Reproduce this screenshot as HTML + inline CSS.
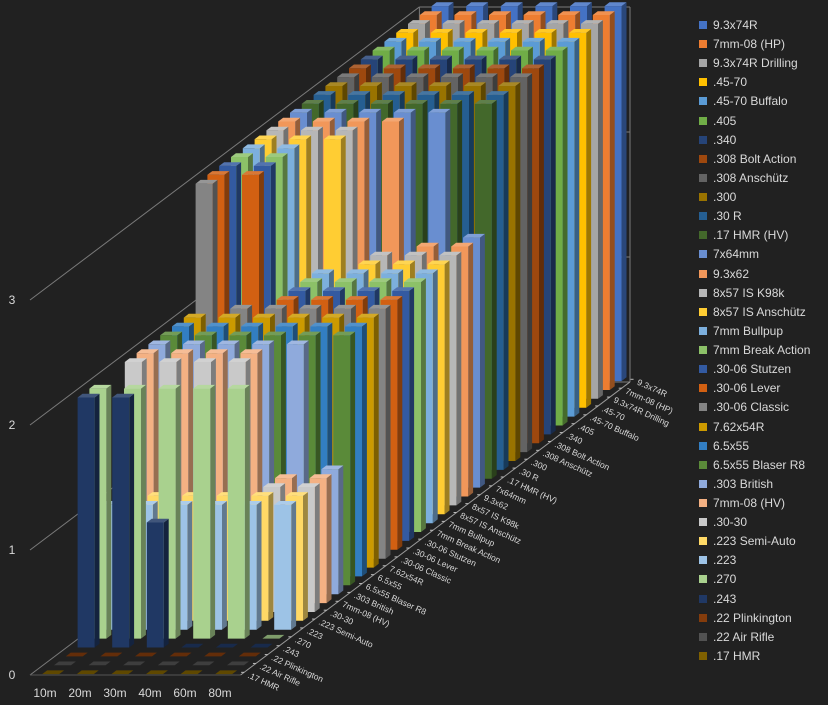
<!DOCTYPE html>
<html><head><meta charset="utf-8">
<style>
html,body{margin:0;padding:0;background:#212121;}
#wrap{position:relative;width:828px;height:705px;overflow:hidden;background:#212121;font-family:"Liberation Sans",sans-serif;}
.leg{position:absolute;left:699px;height:14px;font-size:12px;color:#d9d9d9;line-height:14px;white-space:nowrap;}
.leg i{display:inline-block;width:8px;height:8px;margin-right:6px;vertical-align:0px;}
</style></head>
<body>
<div id="wrap">
<svg id="chart" width="828" height="705"></svg>
<div id="legend"></div>
</div>
<script>
const categories = ["10m","20m","30m","40m","60m","80m"];
// series from front (index 0) to back
const seriesNames = [".17 HMR",".22 Air Rifle",".22 Plinkington",".243",".270",".223",".223 Semi-Auto",".30-30","7mm-08 (HV)",".303 British","6.5x55 Blaser R8","6.5x55","7.62x54R",".30-06 Classic",".30-06 Lever",".30-06 Stutzen","7mm Break Action","7mm Bullpup","8x57 IS Anschütz","8x57 IS K98k","9.3x62","7x64mm",".17 HMR (HV)",".30 R",".300",".308 Anschütz",".308 Bolt Action",".340",".405",".45-70 Buffalo",".45-70","9.3x74R Drilling","7mm-08 (HP)","9.3x74R"];
const seriesColors = ["#7F6000","#525252","#843C0C","#203864","#A9D18E","#9DC3E6","#FFD966","#C9C9C9","#F4B183","#8FAADC","#5A8A39","#327EC2","#CC9A00","#848484","#D26012","#335AA1","#8CC168","#7CAFDD","#FFCD33","#B7B7B7","#F1975A","#698ED0","#43682B","#255E91","#997300","#636363","#9E480E","#264478","#70AD47","#5B9BD5","#FFC000","#A5A5A5","#ED7D31","#4472C4"];
const v_17hmr=[0,0,0,0,0,0];
const v_22air=[0,0,0,0,0,0];
const v_22plink=[0,0,0,0,0,0];
const v_243=[2,2,1,0,0,0];
const v_270=[2,2,2,2,2,0];
const v_223=[1,1,1,1,1,1];
const v_223semi=[1,1,1,1,1,1];
const v_3030=[2,2,2,2,1,1];
const v_708hv=[2,2,2,2,1,1];
const v_303=[2,2,2,2,2,1];
const v_65blaser=[2,2,2,2,2,2];
const v_65x55=[2,2,2,2,2,2];
const v_762=[2,2,2,2,2,2];
const v_3006c=[3,2,2,2,2,2];
const v_3006l=[3,3,2,2,2,2];
const v_3006s=[3,3,2,2,2,2];
const v_7break=[3,3,2,2,2,2];
const v_7bull=[3,3,2,2,2,2];
const v_857a=[3,3,3,2,2,2];
const v_857k=[3,3,3,2,2,2];
const v_93x62=[3,3,3,3,2,2];
const v_7x64=[3,3,3,3,3,2];
const v_17hv=[3,3,3,3,3,3];
const v_30r=[3,3,3,3,3,3];
const v_300=[3,3,3,3,3,3];
const v_308a=[3,3,3,3,3,3];
const v_308b=[3,3,3,3,3,3];
const v_340=[3,3,3,3,3,3];
const v_405=[3,3,3,3,3,3];
const v_4570b=[3,3,3,3,3,3];
const v_4570=[3,3,3,3,3,3];
const v_93drill=[3,3,3,3,3,3];
const v_708hp=[3,3,3,3,3,3];
const v_93x74=[3,3,3,3,3,3];
const seriesValues=[v_17hmr,v_22air,v_22plink,v_243,v_270,v_223,v_223semi,v_3030,v_708hv,v_303,v_65blaser,v_65x55,v_762,v_3006c,v_3006l,v_3006s,v_7break,v_7bull,v_857a,v_857k,v_93x62,v_7x64,v_17hv,v_30r,v_300,v_308a,v_308b,v_340,v_405,v_4570b,v_4570,v_93drill,v_708hp,v_93x74];
const valueTicks=[0,1,2,3];

const NS="http://www.w3.org/2000/svg";
const svg=document.getElementById('chart');
const X0=30, Y0=675, UNIT=125, DX=11.8, DY=8.88, CAT=34.6, BW=17, BD=0.42;
function xScale(c){return 41+CAT*c;}
function yScale(v){return Y0-UNIT*v;}
function proj(x,y,d){return [x+DX*d, y-DY*d];}
function shade(hex,f){let n=parseInt(hex.slice(1),16);let r=n>>16,g=(n>>8)&255,b=n&255;
 const m=c=>Math.max(0,Math.min(255,Math.round(f<1?c*f:c+(255-c)*(f-1))));return `rgb(${m(r)},${m(g)},${m(b)})`;}
function poly(pts,fill,name){const p=document.createElementNS(NS,'polygon');
 p.setAttribute('points',pts.map(q=>q[0].toFixed(1)+','+q[1].toFixed(1)).join(' '));
 p.setAttribute('fill',fill);
 
 
 svg.appendChild(p);return p;}
function line(x1,y1,x2,y2,name,col){const l=document.createElementNS(NS,'line');
 l.setAttribute('x1',x1);l.setAttribute('y1',y1);l.setAttribute('x2',x2);l.setAttribute('y2',y2);
 l.setAttribute('stroke',col||'#7a7a7a');l.setAttribute('stroke-width','1');
 
 
 svg.appendChild(l);}
function text(x,y,s,size,anchor,name,rot){const t=document.createElementNS(NS,'text');
 t.setAttribute('x',x);t.setAttribute('y',y);t.setAttribute('fill','#d9d9d9');
 t.setAttribute('font-size',size);t.setAttribute('font-family','"Liberation Sans",sans-serif');
 if(anchor)t.setAttribute('text-anchor',anchor);
 if(rot)t.setAttribute('transform',`rotate(${rot} ${x} ${y})`);
 t.textContent=s;
 
 
 svg.appendChild(t);}

const NS_=seriesNames.length, WALL=33.0;
const FR=xScale(0)+CAT*6-8; // front-right floor x
// walls / gridlines
valueTicks.forEach(v=>{const y=yScale(v);const b=proj(X0,y,WALL);
 line(X0,y,b[0],b[1],'side-wall-gridline');
 const e=proj(FR,y,WALL);line(b[0],b[1],e[0],e[1],'back-wall-gridline');
 text(12,y+4,String(v),12,'middle','value-axis-label');});
{const a=proj(X0,yScale(3),WALL),b=proj(X0,yScale(0),WALL);line(a[0],a[1],b[0],b[1],'back-wall-left-edge');
 const c=proj(FR,yScale(3),WALL),d=proj(FR,yScale(0),WALL);line(c[0],c[1],d[0],d[1],'back-wall-right-edge');}
line(X0,Y0,FR,Y0,'floor-front-edge','#555');
{const d=proj(FR,Y0,WALL);line(FR,Y0,d[0],d[1],'series-axis-line','#9a9a9a');}

// bars, back to front
for(let s=NS_-1;s>=0;s--){
 const col=seriesColors[s];
 for(let c=0;c<categories.length;c++){
  const v=seriesValues[s][c];
  const x=xScale(c), yt=yScale(v), yb=yScale(0);
  const d0=s+0.1, d1=s+0.1+BD;
  const fTL=proj(x,yt,d0),fTR=proj(x+BW,yt,d0),fBR=proj(x+BW,yb,d0),fBL=proj(x,yb,d0);
  const bTL=proj(x,yt,d1),bTR=proj(x+BW,yt,d1),bBR=proj(x+BW,yb,d1);
  if(v>0){
   poly([fTR,bTR,bBR,fBR],shade(col,0.62),'bar-side');
   poly([fTL,fTR,fBR,fBL],col,'bar-'+categories[c]);
  }
  poly([fTL,fTR,bTR,bTL],v>0?shade(col,1.15):shade(col,0.75),'bar-top');
 }
}
// series labels
for(let s=0;s<NS_;s++){const p=proj(FR,Y0,s+0.3);
 line(p[0],p[1],p[0]-3,p[1],'series-tick','#bbb');
 text(p[0]+3,p[1]+5,seriesNames[s],8.5,null,'series-axis-label',24);}
// category labels
categories.forEach((c,i)=>text(45+35*i,697,c,12,'middle','category-axis-label'));

// legend
const lg=document.getElementById('legend');
for(let i=0;i<NS_;i++){const s=NS_-1-i;
 const d=document.createElement('div');d.className='leg';d.style.top=(18+i*19.12)+'px';
 d.innerHTML=`<i style="background:${seriesColors[s]}"></i>${seriesNames[s]}`;
 
 
 lg.appendChild(d);}
</script>
</body></html>
